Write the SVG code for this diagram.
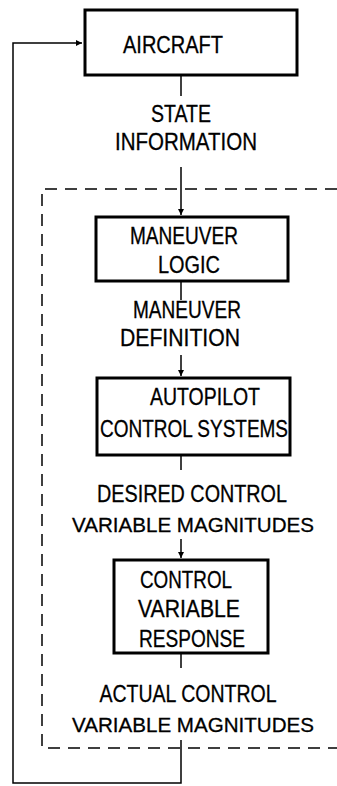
<svg xmlns="http://www.w3.org/2000/svg" width="337" height="786" viewBox="0 0 337 786">
<defs>
<marker id="ah" viewBox="0 0 10 10" refX="10" refY="5" markerWidth="8" markerHeight="6" markerUnits="userSpaceOnUse" orient="auto">
<path d="M0,0 L10,5 L0,10 Z" fill="#000"/>
</marker>
<style>
.box{fill:#fff;stroke:#000;stroke-width:3}
.t{font-family:"Liberation Sans","DejaVu Sans",sans-serif;font-size:23px;fill:#000;stroke:#000;stroke-width:0.3;text-anchor:middle}
.w{font-size:21px}
.ln{fill:none;stroke:#000;stroke-width:1.5}
.dash{fill:none;stroke:#000;stroke-width:1.5;stroke-dasharray:12,8}
</style>
</defs>
<rect width="337" height="786" fill="#fff"/>
<g id="connectors">
<path class="dash" d="M337,189 H42 V748 H337"/>
<path class="ln" d="M181,75 V96"/>
<path class="ln" d="M181,167 V215" marker-end="url(#ah)"/>
<path class="ln" d="M181,281 V300"/>
<path class="ln" d="M181,355 V376" marker-end="url(#ah)"/>
<path class="ln" d="M181,455 V470"/>
<path class="ln" d="M181,539 V558" marker-end="url(#ah)"/>
<path class="ln" d="M181,653 V668"/>
<path class="ln" d="M181,740 V783 H13 V43 H82" marker-end="url(#ah)"/>
</g>
<g id="aircraft">
<rect class="box" x="85" y="10" width="212" height="65"/>
<text class="t" x="173" y="53" font-size="25" textLength="100" lengthAdjust="spacingAndGlyphs">AIRCRAFT</text>
</g>
<g id="label-state">
<text class="t" x="181" y="122" textLength="60" lengthAdjust="spacingAndGlyphs">STATE</text>
<text class="t" x="186" y="150" textLength="142" lengthAdjust="spacingAndGlyphs">INFORMATION</text>
</g>
<g id="maneuver-logic">
<rect class="box" x="96" y="217" width="192" height="64"/>
<text class="t" x="184" y="244" textLength="108" lengthAdjust="spacingAndGlyphs">MANEUVER</text>
<text class="t" x="189" y="273" textLength="62" lengthAdjust="spacingAndGlyphs">LOGIC</text>
</g>
<g id="label-maneuver-def">
<text class="t" x="187" y="318" textLength="108" lengthAdjust="spacingAndGlyphs">MANEUVER</text>
<text class="t" x="180" y="346" textLength="120" lengthAdjust="spacingAndGlyphs">DEFINITION</text>
</g>
<g id="autopilot">
<rect class="box" x="97" y="378" width="193" height="77"/>
<text class="t" x="205" y="405" textLength="110" lengthAdjust="spacingAndGlyphs">AUTOPILOT</text>
<text class="t" x="194" y="437" textLength="188" lengthAdjust="spacingAndGlyphs">CONTROL SYSTEMS</text>
</g>
<g id="label-desired">
<text class="t" x="192" y="502" textLength="190" lengthAdjust="spacingAndGlyphs">DESIRED CONTROL</text>
<text class="t w" x="193" y="532" textLength="242" lengthAdjust="spacingAndGlyphs">VARIABLE MAGNITUDES</text>
</g>
<g id="control-variable-response">
<rect class="box" x="114" y="560" width="154" height="93"/>
<text class="t" x="186" y="588" textLength="92" lengthAdjust="spacingAndGlyphs">CONTROL</text>
<text class="t" x="189" y="617" textLength="102" lengthAdjust="spacingAndGlyphs">VARIABLE</text>
<text class="t" x="192" y="647" textLength="106" lengthAdjust="spacingAndGlyphs">RESPONSE</text>
</g>
<g id="label-actual">
<text class="t" x="188" y="702" textLength="177" lengthAdjust="spacingAndGlyphs">ACTUAL CONTROL</text>
<text class="t w" x="193" y="732" textLength="242" lengthAdjust="spacingAndGlyphs">VARIABLE MAGNITUDES</text>
</g>
</svg>
